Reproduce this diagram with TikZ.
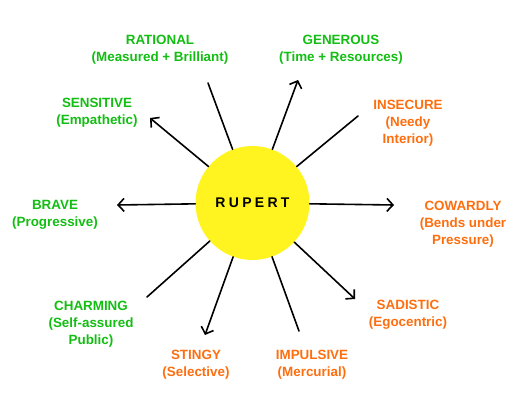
\documentclass[tikz,border=0pt]{standalone}
\usepackage{fontspec}
\setmainfont{Liberation Sans}
\usetikzlibrary{arrows.meta}

\definecolor{goodgreen}{RGB}{18,190,18}
\definecolor{badorange}{RGB}{255,110,14}
\definecolor{sunyellow}{RGB}{255,244,32}

\begin{document}
\begin{tikzpicture}[x=1pt, y=-1pt,
    good/.style={text=goodgreen, font=\fontsize{13.4}{17}\selectfont\bfseries, align=center, inner sep=0pt},
    bad/.style={text=badorange, font=\fontsize{13.4}{17}\selectfont\bfseries, align=center, inner sep=0pt},
    spoke/.style={line width=1.6pt, line cap=round},
    ray/.style={spoke, -{Straight Barb[length=6pt, width=13pt, line width=1.6pt]}}]

  \useasboundingbox (0,0) rectangle (520,415);

  \node (rupert) [circle, fill=sunyellow, minimum size=114pt, inner sep=0pt,
    font=\fontsize{14}{16}\selectfont\bfseries] at (252.5,203)
    {R\kern3.3pt U\kern3.3pt P\kern3.3pt E\kern3.3pt R\kern3.3pt T};

  % labels
  \node (rational) [good] at (160,50) {RATIONAL\\(Measured + Brilliant)};
  \node (sensitive) [good] at (97,113) {SENSITIVE\\(Empathetic)};
  \node (brave) [good] at (55,215) {BRAVE\\(Progressive)};
  \node (charming) [good] at (91,324) {CHARMING\\(Self-assured\\Public)};
  \node (generous) [good] at (341,50) {GENEROUS\\(Time + Resources)};
  \node (insecure) [bad] at (408,123) {INSECURE\\(Needy\\Interior)};
  \node (cowardly) [bad] at (463,224) {COWARDLY\\(Bends under\\Pressure)};
  \node (sadistic) [bad] at (408,315) {SADISTIC\\(Egocentric)};
  \node (impulsive) [bad] at (312,365) {IMPULSIVE\\(Mercurial)};
  \node (stingy) [bad] at (196,365) {STINGY\\(Selective)};

  % free ends
  \coordinate (rationalEnd) at (208,83);
  \coordinate (sensitiveEnd) at (150,118);
  \coordinate (braveEnd) at (117,205);
  \coordinate (charmingEnd) at (147,297);
  \coordinate (generousEnd) at (298,80);
  \coordinate (insecureEnd) at (358,116);
  \coordinate (cowardlyEnd) at (394,205);
  \coordinate (sadisticEnd) at (355,299);
  \coordinate (impulsiveEnd) at (299,331);
  \coordinate (stingyEnd) at (205,335);

  \draw [spoke] (rupert) -- (rationalEnd);
  \draw [ray] (rupert) -- (sensitiveEnd);
  \draw [ray] (rupert) -- (braveEnd);
  \draw [spoke] (rupert) -- (charmingEnd);
  \draw [ray] (rupert) -- (generousEnd);
  \draw [spoke] (rupert) -- (insecureEnd);
  \draw [ray] (rupert) -- (cowardlyEnd);
  \draw [ray] (rupert) -- (sadisticEnd);
  \draw [spoke] (rupert) -- (impulsiveEnd);
  \draw [ray] (rupert) -- (stingyEnd);

\end{tikzpicture}
\end{document}
